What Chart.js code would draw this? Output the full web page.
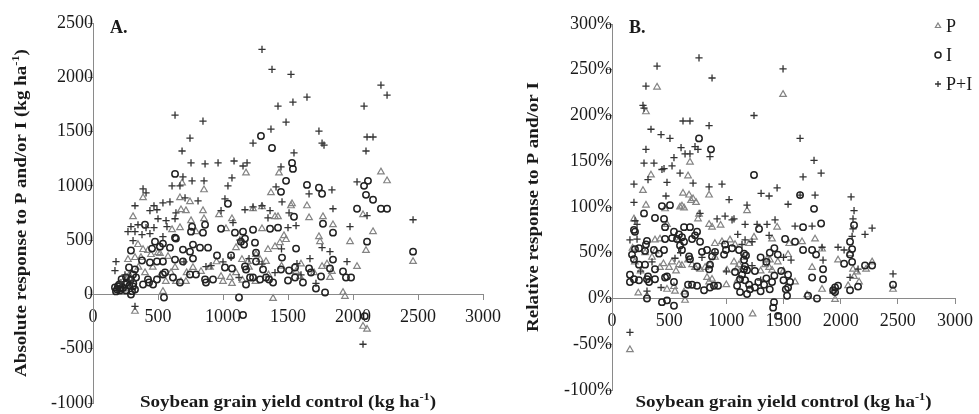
<!DOCTYPE html>
<html>
<head>
<meta charset="utf-8">
<script src="https://cdn.jsdelivr.net/npm/chart.js@4.4.1/dist/chart.umd.min.js"></script>
<style>
    body { margin: 0; background: #fff; }
    #wrap { position: relative; width: 979px; height: 414px; overflow: hidden; }
    canvas { position: absolute; top: 0; }
    #chartA { left: 0; }
    #chartB { left: 490px; }
</style>
</head>
<body>
<div id="wrap">
    <canvas id="chartA" width="520" height="414"></canvas>
    <canvas id="chartB" width="489" height="414"></canvas>
</div>
<script>
// === Data: control yield (kg/ha) vs. response ===
const seriesNames = ['P', 'I', 'P+I'];
const xTicks = [0, 500, 1000, 1500, 2000, 2500, 3000];
const absYTicks = [-1000, -500, 0, 500, 1000, 1500, 2000, 2500];
const relYTicks = [-100, -50, 0, 50, 100, 150, 200, 250, 300];

// Panel A - absolute response (kg/ha)
const absP = [
    [2215,1128],[2262,1046],[1177,1119],[685,1027],[854,963],[385,890],[1369,936],[1431,1119],[1523,816],[669,890],
    [746,853],[677,780],[715,771],[846,771],[969,734],[1231,789],[1300,807],[1400,716],[1423,716],[308,716],
    [754,679],[854,697],[1069,697],[608,596],[669,615],[792,578],[1023,605],[1300,605],[1469,541],[1531,835],
    [1646,816],[1662,706],[1769,716],[1846,642],[2154,578],[1738,532],[2077,734],
    [346,459],[385,413],[423,404],[500,385],[269,321],[323,339],[369,339],[446,367],[515,376],[577,349],[538,28],
    [631,248],[638,119],[677,119],[715,119],[769,248],[831,211],[985,165],[1054,156],[1069,101],[1100,431],
    [1146,321],[1192,303],[1254,367],[1285,321],[1331,303],[1346,413],[1400,440],[1438,477],[1485,505],[1385,-37],[323,-156],
    [1746,486],[1977,486],[2100,404],[2462,303],[2031,257],[1562,211],[1592,165],[1762,257],[1823,156],[1838,211],
    [1923,18],[1938,-18],[2077,-294],[2108,-321],
    [200,100],[240,50],[280,180],[350,250],[400,200],[460,250],[520,180],[560,120],[600,200],[720,200],[900,250],
    [950,300],[1000,120],[1100,200],[1200,250],[1250,120],[1350,180],[1450,260],[1600,280],[1700,200],[1800,280],[1150,130]
];
const absI = [
    [1292,1459],[1377,1349],[1485,1046],[1446,945],[631,1110],[1038,835],[1531,1211],[1538,1156],[1646,1009],[1738,982],
    [1762,927],[2115,1046],[2085,1000],[2100,917],[2154,872],[2031,789],[2215,789],[2262,789],[1546,716],[1769,651],[1846,569],
    [400,642],[762,624],[754,578],[862,642],[846,569],[985,605],[1092,569],[1154,578],[1231,596],[1362,605],[1423,615],[631,523],
    [292,404],[477,486],[538,468],[592,431],[638,514],[692,413],[746,394],[769,459],[823,431],[885,431],[454,422],[515,440],
    [631,321],[692,303],[769,330],[277,248],[323,229],[377,312],[438,294],[492,303],[538,303],[554,202],[538,183],
    [385,92],[431,110],[462,92],[492,138],[423,138],[169,64],[192,73],[215,55],[246,92],[177,28],[208,37],[254,37],
    [308,73],[323,46],[292,0],[308,183],[292,138],[331,156],[254,156],[546,-28],[615,156],[669,110],[746,183],[792,183],
    [862,138],[869,110],[923,138],[954,358],[1015,248],[1069,239],[1062,358],[1169,257],[1177,229],[1208,156],[1254,303],
    [1308,229],[1331,156],[1177,92],[1231,156],[1285,138],[1254,385],[1246,477],[1138,486],[1169,514],[1162,459],
    [1354,138],[1385,110],[1446,229],[1454,339],[1508,220],[1500,128],[1123,-28],[1154,-190],
    [1562,422],[2108,486],[2462,394],[1846,321],[1554,248],[1662,239],[1677,202],[1823,239],[1554,156],[1615,110],
    [1754,165],[1715,55],[1785,18],[1923,211],[1946,156],[1985,156],[2090,-200],
    [185,45],[200,90],[230,60],[260,110],[280,80],[300,30],[310,100],[220,140]
];
const absPI = [
    [1300,2257],[1377,2073],[1523,2027],[1646,1817],[1423,1734],[1538,1771],[2215,1927],[2262,1835],[2085,1734],[631,1651],
    [846,1596],[1738,1505],[1485,1587],[1369,1523],[1231,1394],[746,1440],[685,1321],[2100,1321],[2108,1450],[2154,1450],
    [1762,1394],[1777,1376],[1546,1303],
    [754,1211],[862,1202],[962,1211],[1085,1229],[1154,1183],[1185,1211],[1446,1174],[608,1000],[669,1000],[692,1083],
    [762,1046],[854,1046],[1038,1000],[1069,1073],[1408,991],[385,972],[408,936],[1662,927],[1838,963],[2031,1037],
    [1015,881],[1454,853],[1231,807],[1300,817],[323,817],[469,817],[538,844],[592,853],[708,890],[808,862],[438,771],
    [492,780],[638,752],[985,771],[1169,780],[1362,771],[1346,706],[1508,752],[500,697],[562,679],[631,697],[1077,661],
    [292,624],[346,642],[408,615],[469,615],[569,624],[1500,615],[269,578],[323,578],[377,550],[438,560],[538,532],
    [1846,789],[2108,725],[2462,688],[1562,633],[1977,624],
    [308,495],[869,257],[908,266],[1123,156],[1762,431],[1823,394],[1669,330],[1954,303],[1569,284],[1715,101],
    [2077,-459],[323,-110],[177,303],[169,220],[1062,340],
    [246,180],[215,110],[300,130],[1000,300],[1200,330],[1300,280],[1400,200],[1600,180],[700,300],[1450,420],[1130,500]
];

// Panel B - relative response (%)
const relP = [
    [394,231],[1496,223],[297,204],[682,149],[665,134],[341,135],[271,118],[621,115],[674,113],[709,109],[735,105],
    [849,113],[297,102],[612,101],[464,98],[595,100],[630,99],[761,92],[752,87],[192,87],[481,81],[849,81],[875,78],
    [1444,78],[1181,96],[691,107],
    [376,64],[420,65],[586,64],[420,34],[499,34],[525,40],[586,37],[612,36],[665,42],[700,37],[726,34],[770,32],[814,34],
    [857,37],[901,45],[831,23],[875,21],[849,18],[542,13],[481,10],[630,7],[551,8],[639,-2],[306,3],[962,62],[1032,64],
    [1076,59],[1067,40],[1111,37],[1006,31],[1094,33],[1339,37],[1374,34],[1400,31],[1356,43],[1382,42],[1242,67],
    [1400,65],[1230,-17],[157,-56],[1776,65],[1662,62],[1837,54],[1540,48],[1750,34],[1837,10],[1601,18],[1706,4],
    [1934,8],[1951,-1],[1977,42],[2082,49],[2108,32],[2143,29],[2065,14],[2161,18],[2222,32],[2275,40],[2458,10],[2117,24],
    [200,40],[250,30],[180,55],[230,6],[290,50],[350,45],[450,38],[560,30],[900,60],[950,80],[1100,20],[1200,60],
    [1300,30],[1450,40],[1500,30],[1550,60],[1150,45],[1000,15],[380,52]
];
const relI = [
    [761,175],[866,163],[1242,135],[1645,113],[1767,98],[1829,82],[437,101],[507,102],[280,93],[376,88],[455,87],
    [1286,76],[192,75],[201,73],[306,63],[297,59],[464,78],[542,73],[586,70],[630,78],[682,78],[744,73],[726,69],
    [700,65],[770,62],[612,67],[630,62],[569,65],[525,66],[464,65],[595,58],[612,53],[201,54],[236,55],[175,48],
    [192,43],[236,37],[289,52],[367,53],[411,49],[455,53],[289,37],[376,32],[157,26],[192,21],[236,20],[157,18],
    [315,24],[306,21],[324,18],[376,21],[464,23],[481,24],[542,18],[700,15],[665,15],[805,9],[857,12],[892,14],
    [927,14],[437,-4],[481,-2],[542,-8],[639,5],[306,0],[674,46],[682,43],[744,35],[849,32],[857,37],[875,46],
    [831,53],[787,51],[901,51],[989,59],[997,53],[980,48],[1050,55],[1111,53],[1155,49],[1172,47],[1155,42],
    [1164,35],[1155,32],[1181,31],[1076,29],[1137,26],[1120,21],[1164,20],[1199,15],[1094,14],[1120,7],[1181,5],
    [1207,10],[1417,-4],[1409,-10],[1452,-19],[744,14],
    [1671,78],[1514,65],[1601,62],[1671,53],[1750,53],[1785,48],[1846,32],[1846,21],[1750,23],[1540,26],[1557,18],
    [1540,12],[1531,3],[1715,3],[1793,0],[2030,38],[2100,40],[2082,48],[2100,54],[2082,62],[2117,80],[2082,9],
    [2152,13],[1951,12],[1977,14],[1934,9],[1951,7],[2213,36],[2275,36],[2458,15],
    [1250,12],[1280,18],[1300,8],[1330,15],[1350,22],[1380,10],[1400,18],[1420,25],[1250,30],[1300,45],[1350,40],
    [1380,50],[1420,55],[1450,48],[1480,30],[1500,20],[1520,10]
];
const relPI = [
    [761,263],[394,254],[297,232],[875,241],[1496,251],[271,211],[280,208],[1242,200],[341,185],[429,179],[507,175],
    [621,194],[682,194],[849,189],[726,166],[752,163],[604,165],[639,158],[682,158],[857,155],[297,163],[280,148],
    [367,148],[542,154],[437,141],[525,145],[455,142],[595,137],[709,126],[962,125],[192,125],[315,130],[481,127],
    [472,112],[192,105],[849,122],[1024,108],[1181,102],[1304,115],[1374,112],[1444,121],[1540,103],[1645,175],
    [1645,113],[1776,113],[1671,133],[1767,151],[1829,137],[2091,111],[2117,96],[2108,87],[770,93],[989,90],
    [1067,87],[1426,86],[201,85],[219,81],[919,87],[1050,86],[1164,81],[1269,81],[1356,81],[157,64],[219,65],
    [551,44],[787,45],[1137,59],[1225,36],[1164,64],[1225,62],[1374,69],[1750,79],[1601,79],[1837,56],[1846,42],
    [1977,56],[2030,53],[2100,68],[2108,76],[2082,23],[2152,32],[2213,70],[2275,77],[2458,27],[157,-37],[306,8],
    [429,12],[1566,42],[350,40],[600,50],[1000,30],[1300,20],[1500,45],[900,50],[250,30],[1100,70]
];

// === Styles ===
const FONT_FAMILY = '"Liberation Serif", "Times New Roman", serif';
const TEXT_COLOR = '#1a1a1a';
const AXIS_GREY = '#8a8a8a';
const TITLE_FONT = 'bold 17px ' + FONT_FAMILY;
const SUP_FONT = 'bold 11px ' + FONT_FAMILY;
const TITLE_STRETCH = 1.12;
const xTitleParts = [{ text: 'Soybean grain yield control (kg ha' }, { text: '-1', sup: true }, { text: ')' }];

Chart.defaults.font.family = FONT_FAMILY;
Chart.defaults.color = TEXT_COLOR;

// Yazı + üst simge (kg ha-1)
function drawSupText(ctx, parts, x, y, angle) {
    ctx.save();
    ctx.translate(x, y);
    ctx.rotate(angle);
    ctx.scale(TITLE_STRETCH, 1);
    ctx.textAlign = 'left';
    ctx.textBaseline = 'alphabetic';
    let total = 0;
    parts.forEach(p => {
        ctx.font = p.sup ? SUP_FONT : TITLE_FONT;
        total += ctx.measureText(p.text).width;
    });
    let cx = -total / 2;
    parts.forEach(p => {
        ctx.font = p.sup ? SUP_FONT : TITLE_FONT;
        ctx.fillText(p.text, cx, p.sup ? -7 : 0);
        cx += ctx.measureText(p.text).width;
    });
    ctx.restore();
}

// Panel letter, axis titles and legend
const panelTextPlugin = {
    id: 'panelText',
    afterDraw(chart, args, opts) {
        const ctx = chart.ctx;
        const area = chart.chartArea;
        ctx.save();
        ctx.fillStyle = TEXT_COLOR;
        ctx.font = 'bold 18px ' + FONT_FAMILY;
        ctx.textAlign = 'left';
        ctx.textBaseline = 'alphabetic';
        ctx.fillText(opts.letter, area.left + 17, 33);

        drawSupText(ctx, xTitleParts, (area.left + area.right) / 2, 407, 0);
        drawSupText(ctx, opts.yTitle, opts.yTitleX, (area.top + area.bottom) / 2, -Math.PI / 2);

        if (opts.legend) {
            chart.data.datasets.forEach((ds, i) => {
                const y = opts.legend.top + i * opts.legend.gap;
                ctx.fillStyle = 'rgba(0,0,0,0)';
                ctx.strokeStyle = ds.pointBorderColor;
                ctx.lineWidth = ds.pointBorderWidth;
                Chart.helpers.drawPoint(ctx, {
                    pointStyle: ds.pointStyle,
                    radius: 3,
                    rotation: 0,
                    borderWidth: ds.pointBorderWidth
                }, opts.legend.x, y);
                ctx.fillStyle = TEXT_COLOR;
                ctx.font = '18px ' + FONT_FAMILY;
                ctx.textBaseline = 'middle';
                ctx.fillText(ds.label, opts.legend.x + 8, y + 1);
            });
        }
        ctx.restore();
    }
};

function makeDatasets(pData, iData, piData) {
    const toXY = arr => arr.map(([x, y]) => ({ x, y }));
    return [
        {
            label: seriesNames[0], data: toXY(pData), order: 3,
            pointStyle: 'triangle', pointRadius: 3.8, pointBorderWidth: 1.2,
            pointBorderColor: '#848484', pointBackgroundColor: 'rgba(0,0,0,0)'
        },
        {
            label: seriesNames[1], data: toXY(iData), order: 2,
            pointStyle: 'circle', pointRadius: 3.2, pointBorderWidth: 1.5,
            pointBorderColor: '#222222', pointBackgroundColor: 'rgba(0,0,0,0)'
        },
        {
            label: seriesNames[2], data: toXY(piData), order: 1,
            pointStyle: 'cross', pointRadius: 3.6, pointBorderWidth: 1.3,
            pointBorderColor: '#333333', pointBackgroundColor: 'rgba(0,0,0,0)'
        }
    ];
}

// Keep the label overhang from shrinking the plot area
function noOverhang(s) {
    s.paddingTop = 0;
    s.paddingBottom = 0;
    s.paddingLeft = 0;
    s.paddingRight = 0;
}

function makeScales(yTicks, yPad, yFormat) {
    const gridOpts = { drawOnChartArea: false, drawTicks: true, tickLength: 5, color: AXIS_GREY };
    const borderOpts = { display: true, color: AXIS_GREY, width: 1 };
    return {
        x: {
            type: 'linear',
            min: xTicks[0], max: xTicks[xTicks.length - 1],
            position: { y: 0 },
            afterBuildTicks: s => { s.ticks = xTicks.map(v => ({ value: v })); },
            afterFit: noOverhang,
            ticks: { autoSkip: false, maxRotation: 0, padding: 7, color: TEXT_COLOR, font: { size: 18 }, callback: v => String(v) },
            grid: gridOpts,
            border: borderOpts
        },
        y: {
            type: 'linear',
            min: yTicks[0], max: yTicks[yTicks.length - 1],
            position: { x: 0 },
            afterBuildTicks: s => { s.ticks = yTicks.map(v => ({ value: v })); },
            afterFit: noOverhang,
            ticks: { autoSkip: false, padding: yPad, color: TEXT_COLOR, font: { size: 18 }, callback: yFormat },
            grid: gridOpts,
            border: borderOpts
        }
    };
}

function makeChart(canvasId, datasets, scales, padding, textOpts) {
    return new Chart(document.getElementById(canvasId), {
        type: 'scatter',
        data: { datasets },
        options: {
            responsive: false,
            animation: false,
            devicePixelRatio: 1,
            events: [],
            layout: { padding },
            scales,
            plugins: {
                legend: { display: false },
                tooltip: { enabled: false },
                panelText: textOpts
            }
        },
        plugins: [panelTextPlugin]
    });
}

document.addEventListener('DOMContentLoaded', () => {
    // A. Absolute response
    makeChart('chartA',
        makeDatasets(absP, absI, absPI),
        makeScales(absYTicks, 10, v => String(v)),
        { left: 93, right: 37, top: 23, bottom: 11 },
        {
            letter: 'A.',
            yTitleX: 26,
            yTitle: [{ text: 'Absolute response to P and/or I (kg ha' }, { text: '-1', sup: true }, { text: ')' }]
        });

    // B. Relative response
    makeChart('chartB',
        makeDatasets(relP, relI, relPI),
        makeScales(relYTicks, 12, v => v + '%'),
        { left: 122, right: 24, top: 24, bottom: 24 },
        {
            letter: 'B.',
            yTitleX: 48,
            yTitle: [{ text: 'Relative response to P and/or I' }],
            legend: { x: 448, top: 26, gap: 29 }
        });
});
</script>
</body>
</html>
